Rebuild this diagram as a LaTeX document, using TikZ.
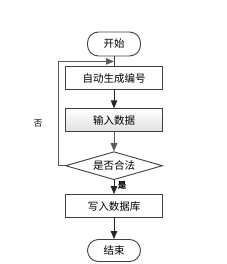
\documentclass[tikz,border=0pt]{standalone}
\usepackage{fontspec}
\newfontfamily\cjk{Noto Sans CJK SC}
\usetikzlibrary{positioning,shapes.geometric,arrows.meta}

\begin{document}
\begin{tikzpicture}[x=1pt,y=1pt,
		font=\cjk\fontsize{10.5}{12}\selectfont,
		line/.style={draw=black!75, line width=0.9pt},
		term/.style={line, rectangle, rounded corners=11pt, fill=white, minimum width=53pt, minimum height=24pt, inner sep=0pt},
		proc/.style={line, rectangle, fill=white, minimum width=97pt, minimum height=23pt, inner sep=0pt},
		cond/.style={line, diamond, fill=white, aspect=3.46, minimum width=97pt, minimum height=28pt, inner sep=0pt},
		flow/.style={line, -{Triangle[length=8pt,width=6.5pt]}, black!85},
		lbl/.style={text=black, font=\cjk\fontsize{8.5}{10}\selectfont}]
		\useasboundingbox (0,0) rectangle (226,-264);
		\node [term] (start) at (114,-44) {开始};
		\node [proc] (gen) [below=10pt of start] {自动生成编号};
		\node [proc, top color=white, bottom color=black!12] (input) [below=18pt of gen] {输入数据};
		\node [cond] (check) [below=19pt of input] {是否合法};
		\node [proc] (store) [below=14pt of check] {写入数据库};
		\node [term, minimum height=22pt] (stop) [below=21pt of store] {结束};
		\coordinate [below=5pt of start] (join);

		\draw [line] (start) -- (gen);
		\draw [flow] (gen) -- (input);
		\draw [flow, black!65] (input) -- (check);
		\draw [flow] (check) -- node [lbl, right, pos=0.4] {\textbf{是}} (store);
		\draw [flow] (store) -- (stop);
		\draw [flow, black!65] (check.west) -- ++(-7,0) |- node [lbl, pos=0.2, left=12pt] {否} (join);
	\end{tikzpicture}
\end{document}
